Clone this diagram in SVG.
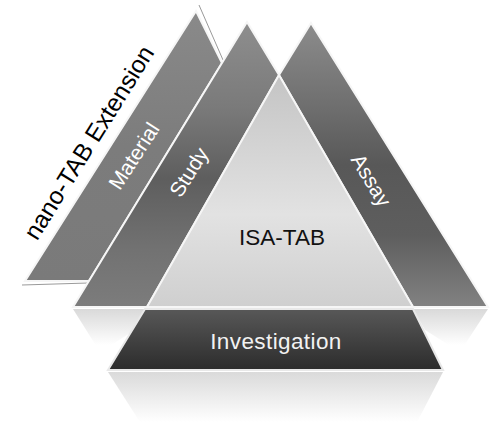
<svg xmlns="http://www.w3.org/2000/svg" width="491" height="422" viewBox="0 0 491 422">
  <defs>
    <style>
      .band { stroke: #f6f6f6; stroke-width: 2; stroke-linejoin: miter; }
      .lbl { font-family: "Liberation Sans", Arial, sans-serif; font-size: 21px; fill: #ffffff; text-anchor: middle; }
      .big { font-family: "Liberation Sans", Arial, sans-serif; font-size: 22.5px; text-anchor: middle; }
    </style>
    <linearGradient id="gMat" gradientUnits="userSpaceOnUse" x1="0" y1="10" x2="0" y2="282">
      <stop offset="0" stop-color="#8a8a8a"/>
      <stop offset="0.5" stop-color="#7c7c7c"/>
      <stop offset="1" stop-color="#7a7a7a"/>
    </linearGradient>
    <linearGradient id="gStudy" gradientUnits="userSpaceOnUse" x1="0" y1="22" x2="0" y2="307">
      <stop offset="0" stop-color="#8e8e8e"/>
      <stop offset="0.3" stop-color="#7a7a7a"/>
      <stop offset="0.55" stop-color="#5e5e5e"/>
      <stop offset="0.8" stop-color="#727272"/>
      <stop offset="1" stop-color="#7c7c7c"/>
    </linearGradient>
    <linearGradient id="gAssay" gradientUnits="userSpaceOnUse" x1="0" y1="23" x2="0" y2="307">
      <stop offset="0" stop-color="#8c8c8c"/>
      <stop offset="0.3" stop-color="#6e6e6e"/>
      <stop offset="0.5" stop-color="#585858"/>
      <stop offset="0.75" stop-color="#5e5e5e"/>
      <stop offset="1" stop-color="#828282"/>
    </linearGradient>
    <linearGradient id="gIsa" gradientUnits="userSpaceOnUse" x1="0" y1="75" x2="0" y2="307">
      <stop offset="0" stop-color="#c4c4c4"/>
      <stop offset="0.6" stop-color="#e2e2e2"/>
      <stop offset="1" stop-color="#cfcfcf"/>
    </linearGradient>
    <linearGradient id="gInv" gradientUnits="userSpaceOnUse" x1="0" y1="309" x2="0" y2="370">
      <stop offset="0" stop-color="#585858"/>
      <stop offset="1" stop-color="#2c2c2c"/>
    </linearGradient>
    <linearGradient id="gRefl" gradientUnits="userSpaceOnUse" x1="0" y1="372" x2="0" y2="422">
      <stop offset="0" stop-color="#dadada"/>
      <stop offset="1" stop-color="#ffffff"/>
    </linearGradient>
    <linearGradient id="gRefl2" gradientUnits="userSpaceOnUse" x1="0" y1="308" x2="0" y2="345">
      <stop offset="0" stop-color="#d8d8d8"/>
      <stop offset="1" stop-color="#ffffff"/>
    </linearGradient>
  </defs>

  <!-- reflections -->
  <g id="reflections">
    <polygon points="108,372 443,372 413,430 145,430" fill="url(#gRefl)"/>
    <polygon points="73,309 147,309 135,330 100,352" fill="url(#gRefl2)"/>
    <polygon points="413,309 488,309 460,352 425,330" fill="url(#gRefl2)"/>
  </g>

  <g id="material">
    <line x1="199" y1="5" x2="223" y2="60" stroke="#9a9a9a" stroke-width="1"/>
    <polygon class="band" points="196,11 222,63 89,281 25,281" fill="url(#gMat)"/>
    <line x1="22" y1="285" x2="88" y2="283" stroke="#9a9a9a" stroke-width="1"/>
    <text class="lbl" transform="translate(140,160) rotate(-57)">Material</text>
  </g>

  <g id="study">
    <polygon class="band" points="247,22 279,75 147,307 73,307" fill="url(#gStudy)"/>
    <text class="lbl" transform="translate(195,176) rotate(-58)">Study</text>
  </g>

  <g id="assay">
    <polygon class="band" points="311,23 488,307 413,307 279,75" fill="url(#gAssay)"/>
    <text class="lbl" transform="translate(365,184) rotate(59)">Assay</text>
  </g>

  <g id="isatab">
    <polygon class="band" points="279,75 413,307 147,307" fill="url(#gIsa)"/>
    <text class="big" x="282" y="245" fill="#111111">ISA-TAB</text>
  </g>

  <g id="investigation">
    <polygon points="145,309 413,309 443,370 108,370" fill="url(#gInv)" stroke="#e8e8e8" stroke-width="2"/>
    <text class="big" x="276" y="349" fill="#f2f2f2" style="letter-spacing:0.4px">Investigation</text>
  </g>

  <g id="nanotab">
    <text transform="translate(96,147) rotate(-58)" style="font-family:'Liberation Sans', Arial, sans-serif; font-size:24.5px; text-anchor:middle;" fill="#000000">nano-TAB Extension</text>
  </g>

  <g id="connectors"></g>
</svg>
